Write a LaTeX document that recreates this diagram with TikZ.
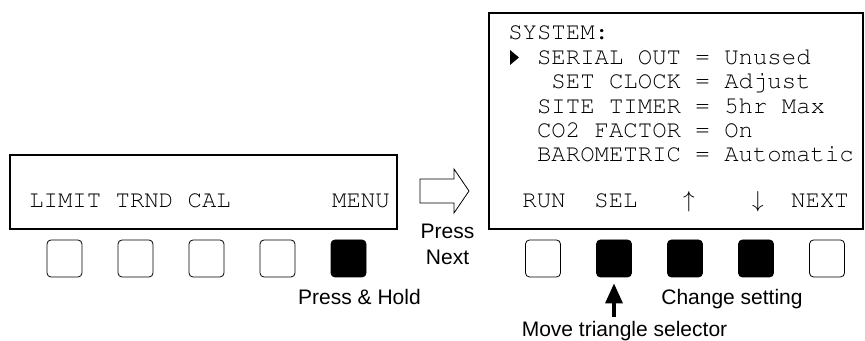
\documentclass[tikz,border=0pt]{standalone}
\usepackage[T1]{fontenc}
\usepackage{fontspec}
\setmainfont{Liberation Sans}
\usetikzlibrary{arrows.meta}

\begin{document}
\begin{tikzpicture}[x=0.75pt,y=-0.75pt,
  lcd/.style={font=\fontencoding{T1}\fontfamily{pcr}\fontsize{18}{20}\selectfont,inner sep=0pt},
  note/.style={font=\fontsize{15.75}{19.5}\selectfont,inner sep=0pt},
  frame/.style={line width=1.5pt},
  key/.style={draw,line width=0.6pt,rounded corners=3pt,minimum width=26.25pt,
    minimum height=27.75pt,inner sep=0pt},
  held/.style={key,fill=black},
  selarrow/.style={-{Triangle[width=12.75pt,length=15pt]},line width=2.6pt}]
\useasboundingbox (0,0) rectangle (865,341);
% main screen
\draw[frame] (10,155) rectangle (397,229);
\node[lcd,anchor=base west] (soft) at (29,208) {LIMIT TRND CAL};
\node[lcd,anchor=base east] (menu) at (390,208) {MENU};
\foreach \i in {1,...,4}{\node[key] (a\i) at (-6.5+71*\i,258.5) {};}
\node[held] (a5) at (348.5,258.5) {};
\node[note,anchor=base] (hold) at (359.5,305) {Press \& Hold};
% go to next screen
\draw[line width=0.6pt] (420,179) -- (454,179) -- (454,169) -- (469,191)
  -- (454,213) -- (454,203) -- (420,203) -- cycle;
\node[note,align=center,anchor=north] (next) at (447.5,224) {Press\\Next};
% system menu
\draw[frame] (489,13) rectangle (863,229);
\node[lcd,anchor=base west] (m0) at (508,40) {SYSTEM:};
\fill (510,50) -- (519,57.5) -- (510,65) -- cycle;
\node[lcd,anchor=base west] (m1) at (536.8,64.5) {SERIAL OUT = Unused};
\node[lcd,anchor=base west] (m2) at (551.2,89) {SET CLOCK = Adjust};
\node[lcd,anchor=base west] (m3) at (536.8,113.3) {SITE TIMER = 5hr Max};
\node[lcd,anchor=base west] (m4) at (536.8,137.6) {CO2 FACTOR = On};
\node[lcd,anchor=base west] (m5) at (536.8,162) {BAROMETRIC = Automatic};
\foreach \x/\t in {544/RUN,616/SEL,689/$\uparrow$,758/$\downarrow$,820/NEXT}
  {\node[lcd,anchor=base] at (\x,208) {\t};}
\node[key] (b1) at (543,258.5) {};
\foreach \i/\x in {2/614,3/685,4/756}{\node[held] (b\i) at (\x,258.5) {};}
\node[key] (b5) at (827,258.5) {};
\node[note,anchor=base] (chg) at (732,305) {Change setting};
\node[note,anchor=base] (move) at (624.5,337) {Move triangle selector};
\draw[selarrow,shorten <=3.5pt,shorten >=4.5pt] (move.north -| b2.south) -- (b2.south);
\end{tikzpicture}
\end{document}
